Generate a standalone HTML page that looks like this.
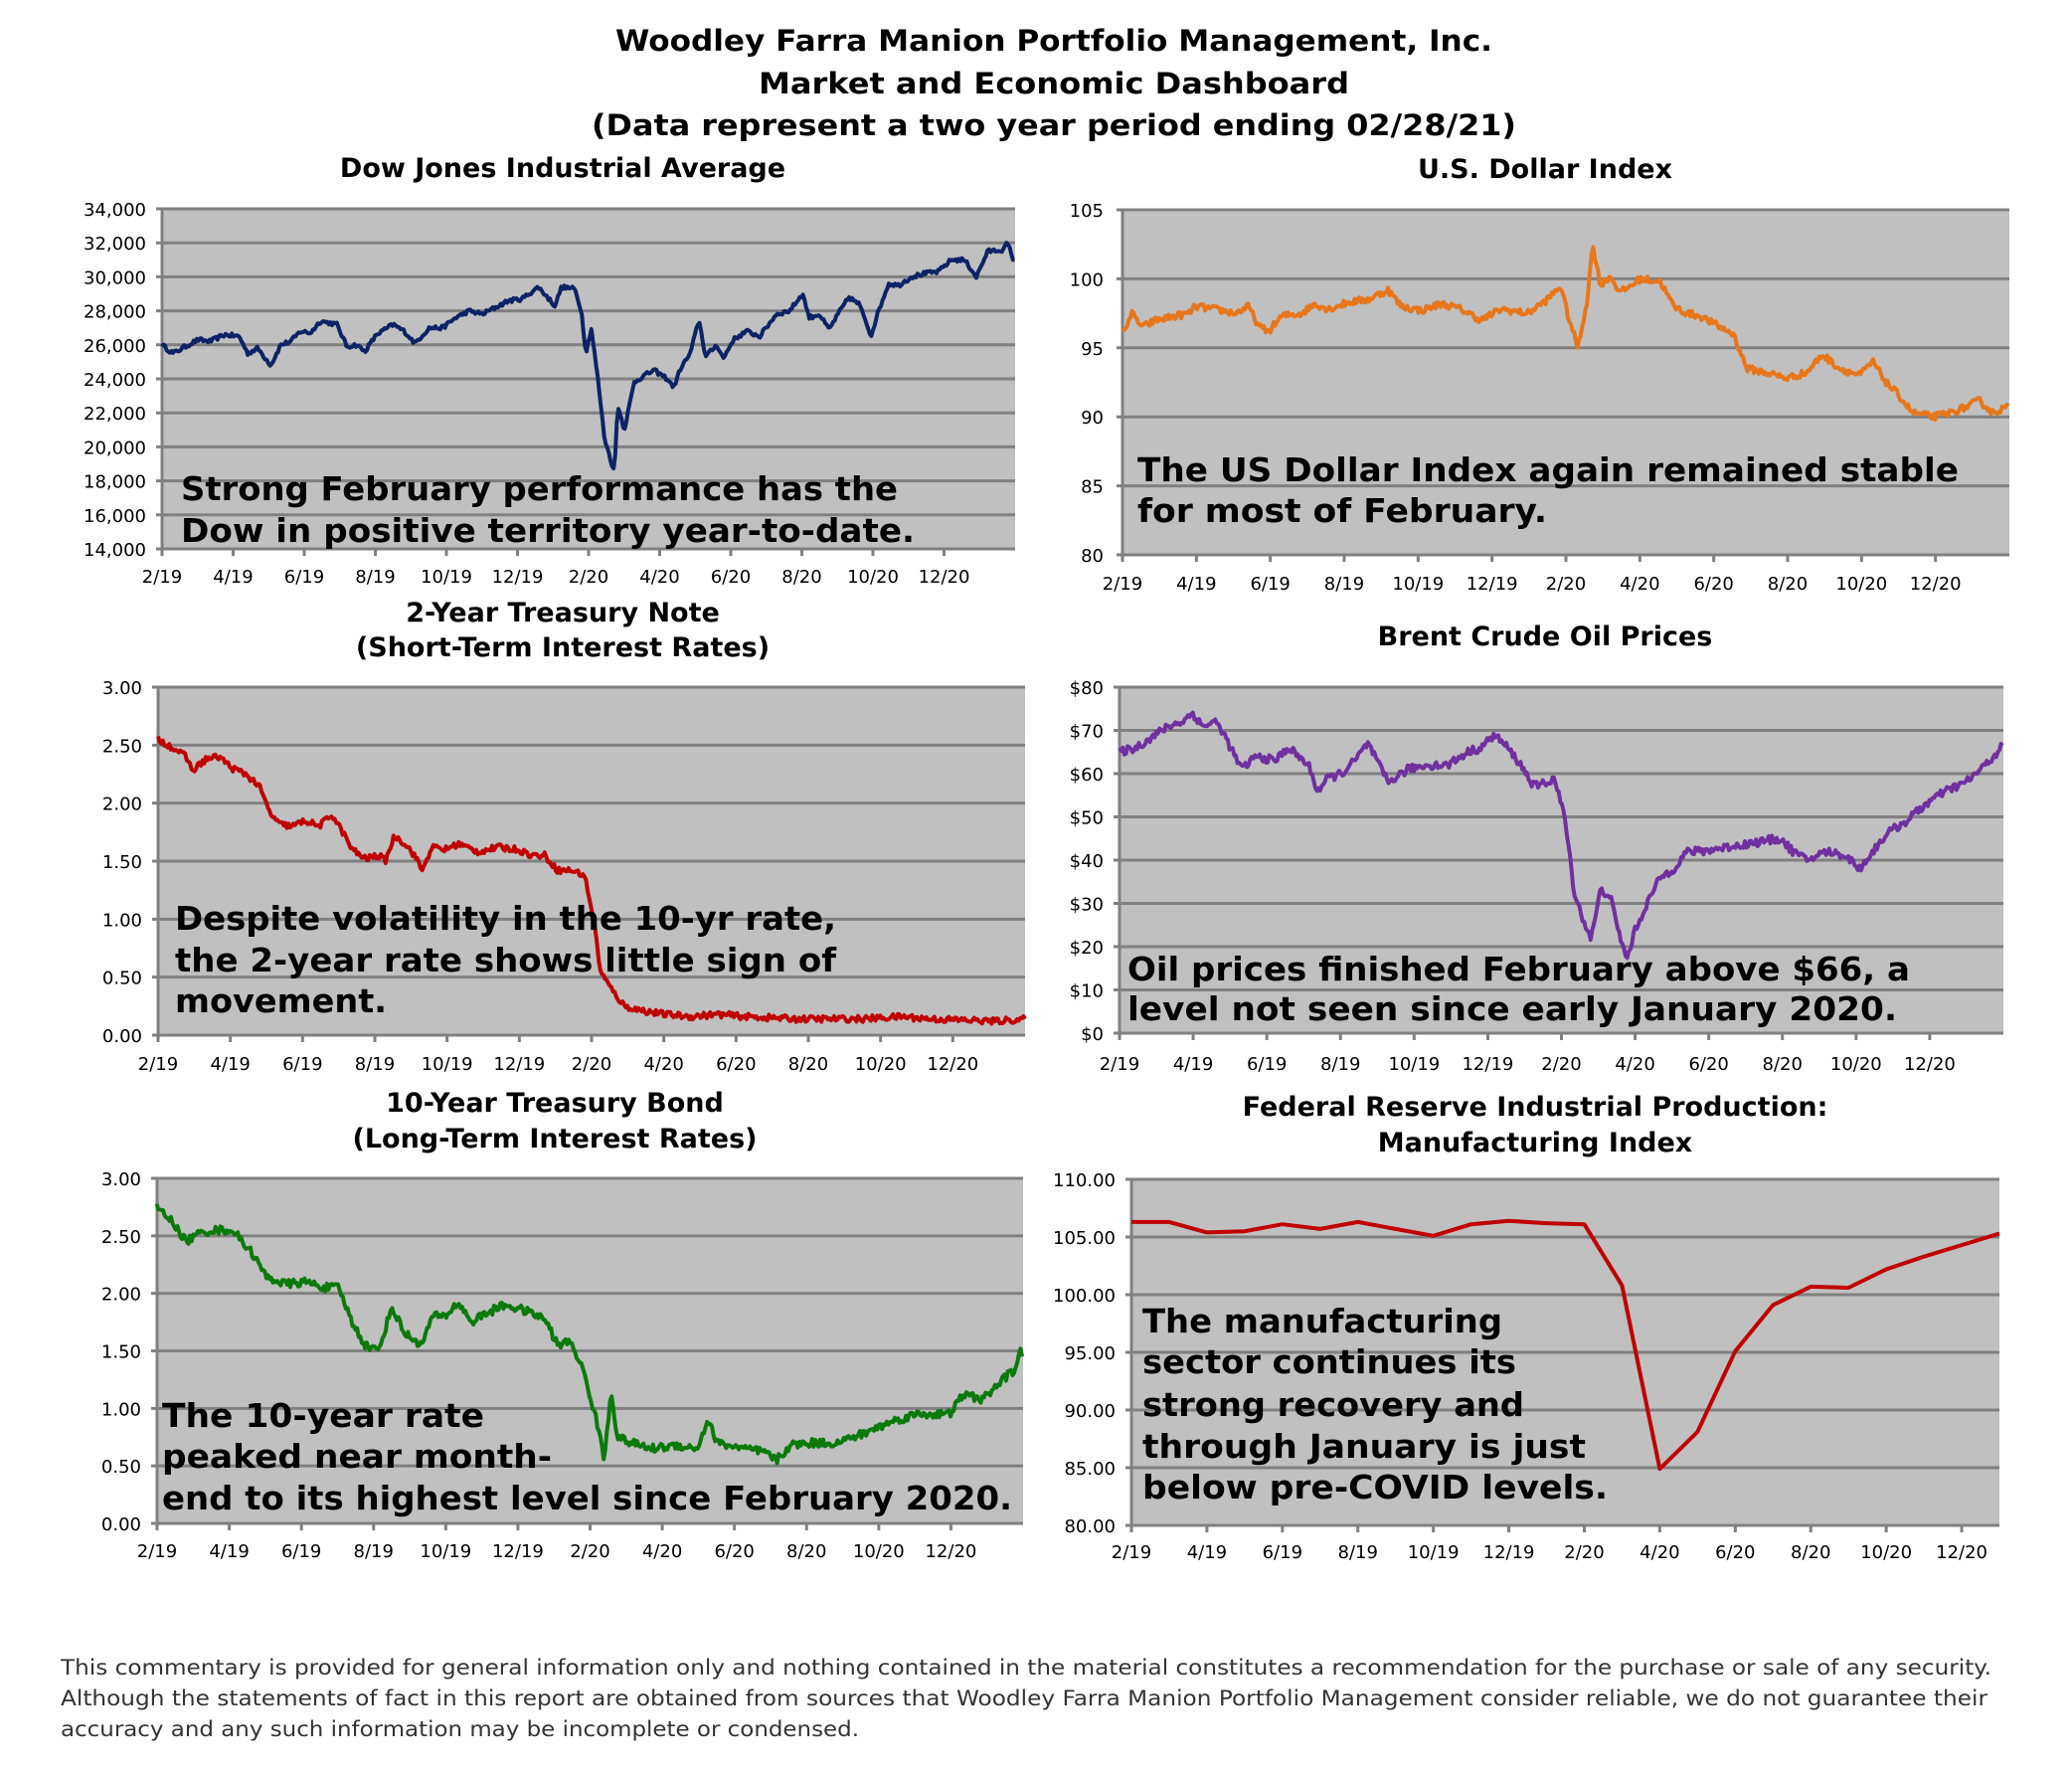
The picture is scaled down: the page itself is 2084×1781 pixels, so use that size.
<!DOCTYPE html>
<html><head><meta charset="utf-8">
<style>
html,body{margin:0;padding:0;background:#fff;}
svg{display:block;}
text{font-family:"DejaVu Sans","Liberation Sans",sans-serif;}
.t{font-weight:bold;font-size:29px;fill:#000;}
.ct{font-weight:bold;font-size:27px;fill:#000;}
.ann{font-weight:bold;font-size:33px;fill:#000;}
.lab{font-size:18px;fill:#000;}
.ft{font-size:21px;fill:#333;}
</style></head>
<body>
<svg id="s" width="2084" height="1781" viewBox="0 0 2084 1781" xmlns="http://www.w3.org/2000/svg">
<rect width="2084" height="1781" fill="#fff"/>
<text class="t" x="1060" y="51" text-anchor="middle" textLength="882" lengthAdjust="spacingAndGlyphs">Woodley Farra Manion Portfolio Management, Inc.</text>
<text class="t" x="1060" y="94" text-anchor="middle" textLength="594" lengthAdjust="spacingAndGlyphs">Market and Economic Dashboard</text>
<text class="t" x="1060" y="136" text-anchor="middle" textLength="930" lengthAdjust="spacingAndGlyphs">(Data represent a two year period ending 02/28/21)</text>
<g id="charts"></g>
<text class="ft" x="61" y="1684" textLength="1942" lengthAdjust="spacingAndGlyphs">This commentary is provided for general information only and nothing contained in the material constitutes a recommendation for the purchase or sale of any security.</text>
<text class="ft" x="61" y="1715" textLength="1938" lengthAdjust="spacingAndGlyphs">Although the statements of fact in this report are obtained from sources that Woodley Farra Manion Portfolio Management consider reliable, we do not guarantee their</text>
<text class="ft" x="61" y="1746" textLength="803" lengthAdjust="spacingAndGlyphs">accuracy and any such information may be incomplete or condensed.</text>
</svg>
<script>
(function(){
var S=1.336, NS="http://www.w3.org/2000/svg", g=document.getElementById('charts');
var seed=12345;function rnd(){seed=(seed*16807)%2147483647;return seed/2147483647;}
function el(n,a,t){var e=document.createElementNS(NS,n);for(var k in a)e.setAttribute(k,a[k]);if(t!=null)e.textContent=t;g.appendChild(e);return e;}
function interp(pts,x){for(var i=0;i<pts.length-1;i++){if(x<=pts[i+1][0]){var a=pts[i],b=pts[i+1];var f=(x-a[0])/((b[0]-a[0])||1);return a[1]+(b[1]-a[1])*f;}}return pts[pts.length-1][1];}
var labels=['2/19','4/19','6/19','8/19','10/19','12/19','2/20','4/20','6/20','8/20','10/20','12/20'];
function chart(o){
 var x0=o.x0,x1=o.x1,y0=o.y0,y1=o.y1;
 el('rect',{x:x0,y:y0,width:x1-x0,height:y1-y0,fill:'#c0c0c0'});
 var n=Math.round((o.ymax-o.ymin)/o.step);
 for(var i=0;i<=n;i++){var v=o.ymin+i*o.step;var y=y1-(v-o.ymin)/(o.ymax-o.ymin)*(y1-y0);
  el('line',{x1:x0-6,y1:y,x2:x1,y2:y,stroke:'#808080','stroke-width':3});
  el('text',{x:o.lx,y:y+7,'text-anchor':'end','class':'lab'},o.fmt(v));}
 el('line',{x1:x0,y1:y0,x2:x0,y2:y1+6,stroke:'#808080','stroke-width':3});
 var mw=(x1-x0)/(o.months||24);
 for(var j=0;j<12;j++){var xx=x0+j*2*mw;el('line',{x1:xx,y1:y1,x2:xx,y2:y1+7,stroke:'#808080','stroke-width':3});
  el('text',{x:xx,y:o.xly,'text-anchor':'middle','class':'lab'},labels[j]);}
 var pts=o.pts.map(function(p){return [p[0]*o.ks,p[1]];});
 var d='',amp=(o.ymax-o.ymin)*(o.noise||0.004);
 if(o.smooth){pts.forEach(function(p,i){var y=y1-(p[1]-o.ymin)/(o.ymax-o.ymin)*(y1-y0);d+=(i?'L':'M')+p[0].toFixed(1)+' '+y.toFixed(1);});}
 else{var xs=pts[0][0],xe=pts[pts.length-1][0];
  for(var x=xs;x<=xe+0.01;x+=1.6){var v=interp(pts,x)+(rnd()-0.5)*2*amp;if(x>xe-2)v=interp(pts,xe);
   var y=y1-(v-o.ymin)/(o.ymax-o.ymin)*(y1-y0);d+=(x==xs?'M':'L')+x.toFixed(1)+' '+y.toFixed(1);}}
 el('path',{d:d,fill:'none',stroke:o.color,'stroke-width':o.sw||4,'stroke-linejoin':'round'});
 o.titles.forEach(function(t){el('text',{x:t[0],y:t[1],'text-anchor':'middle','class':'ct'},t[2]);});
 o.ann.forEach(function(a){el('text',{x:a[0],y:a[1],'class':'ann',textLength:a[3],lengthAdjust:'spacingAndGlyphs'},a[2]);});
}
function comma(v){return v.toLocaleString('en-US');}
function f2(v){return v.toFixed(2);}
chart({x0:163,x1:1021,y0:210,y1:552,ymin:14000,ymax:34000,step:2000,fmt:comma,lx:147,xly:586,color:'#0d2366',ks:1/1.505,noise:0.006,
pts:[[245,26000],[262,25500],[285,26000],[300,26300],[318,26200],[340,26600],[362,26500],[375,25500],[390,25800],[410,24800],[425,26000],[440,26200],[455,26800],[470,26700],[485,27400],[510,27200],[525,25900],[540,26000],[552,25600],[570,26600],[595,27200],[612,26800],[628,26100],[650,27000],[670,27000],[690,27600],[710,28000],[730,27800],[750,28200],[770,28600],[790,28700],[815,29400],[840,28300],[850,29400],[870,29300],[880,28000],[887,25500],[895,27000],[905,24000],[915,20500],[930,18500],[935,22500],[945,21000],[960,23800],[975,24200],[990,24500],[1010,24000],[1020,23500],[1030,24600],[1045,25500],[1058,27500],[1068,25300],[1085,26000],[1095,25200],[1110,26300],[1130,26800],[1150,26500],[1175,27800],[1195,28000],[1215,29000],[1225,27600],[1240,27800],[1255,26900],[1270,27900],[1285,28800],[1300,28400],[1310,27500],[1318,26500],[1330,28000],[1345,29600],[1360,29500],[1380,30000],[1400,30200],[1420,30300],[1440,31000],[1460,31000],[1478,30000],[1495,31500],[1520,31600],[1524,32000],[1536,31000]],
titles:[[566,178,'Dow Jones Industrial Average']],
ann:[[182,503,'Strong February performance has the',721],[182,545,'Dow in positive territory year-to-date.',738]]});
chart({x0:1129,x1:2021,y0:211,y1:558,ymin:80,ymax:105,step:5,fmt:function(v){return ''+v;},lx:1110,xly:593,color:'#e8761a',ks:S,noise:0.01,
pts:[[845,96],[852,97.5],[860,96.5],[870,97],[880,97.2],[895,97.5],[900,98],[915,97.8],[930,97.5],[940,98],[948,96.5],[955,96.2],[965,97.3],[980,97.5],[990,98.2],[1000,97.8],[1015,98.3],[1030,98.5],[1045,99.2],[1055,98],[1070,97.7],[1085,98.2],[1100,97.8],[1115,97],[1130,97.8],[1150,97.5],[1165,98.5],[1175,99.5],[1180,97.5],[1188,95],[1195,98.5],[1199,102.5],[1205,99.5],[1212,100.2],[1220,99],[1235,100],[1250,99.8],[1260,98],[1270,97.5],[1280,97.3],[1295,96.5],[1305,96],[1315,93.5],[1330,93.2],[1345,92.8],[1360,93.2],[1372,94.5],[1385,93.5],[1400,93],[1410,94],[1420,92.5],[1430,91.5],[1440,90.3],[1455,90],[1465,90.2],[1480,90.7],[1490,91.2],[1500,90.3],[1513,90.8]],
titles:[[1554,179,'U.S. Dollar Index']],
ann:[[1144,484,'The US Dollar Index again remained stable',826],[1144,525,'for most of February.',412]]});
chart({x0:159,x1:1031,y0:691,y1:1041,ymin:0,ymax:3,step:0.5,fmt:f2,lx:143,xly:1076,color:'#c00000',ks:S,noise:0.009,
pts:[[119,2.55],[130,2.48],[140,2.40],[145,2.28],[155,2.38],[165,2.40],[175,2.30],[185,2.25],[195,2.15],[203,1.92],[210,1.82],[220,1.80],[230,1.85],[240,1.80],[250,1.90],[258,1.75],[265,1.60],[275,1.52],[285,1.55],[290,1.50],[297,1.72],[305,1.65],[312,1.55],[318,1.42],[325,1.62],[335,1.60],[345,1.65],[360,1.58],[375,1.62],[390,1.60],[400,1.55],[410,1.55],[420,1.42],[430,1.42],[440,1.38],[447,1.00],[452,0.55],[460,0.40],[470,0.25],[480,0.22],[500,0.18],[520,0.16],[540,0.18],[560,0.16],[600,0.14],[650,0.14],[680,0.16],[700,0.14],[750,0.12],[772,0.14]],
titles:[[566,625,'2-Year Treasury Note'],[566,660,'(Short-Term Interest Rates)']],
ann:[[176,935,'Despite volatility in the 10-yr rate,',665],[176,977,'the 2-year rate shows little sign of',665],[176,1018,'movement.',213]]});
chart({x0:1126,x1:2015,y0:691,y1:1039,ymin:0,ymax:80,step:10,fmt:function(v){return '$'+v;},lx:1110,xly:1076,color:'#7030a0',ks:S,noise:0.012,
pts:[[843,65],[855,66],[865,68],[880,71],[890,72],[898,74],[905,71],[915,72],[920,70],[928,65],[935,61],[945,64],[960,63],[970,66],[985,62],[992,56],[1000,59],[1010,60],[1020,63],[1030,67],[1038,62],[1045,58],[1060,61],[1075,62],[1090,62],[1105,65],[1115,66],[1125,69],[1135,66],[1145,62],[1155,57],[1165,58],[1170,59],[1178,50],[1185,33],[1192,26],[1198,22],[1205,33],[1212,32],[1218,24],[1225,17],[1230,23],[1240,30],[1250,36],[1260,38],[1270,42],[1280,42],[1300,43],[1320,44],[1340,45],[1350,42],[1360,40],[1375,42],[1390,41],[1400,38],[1410,42],[1420,46],[1435,49],[1450,53],[1465,56],[1480,58],[1495,62],[1508,66.5]],
titles:[[1554,649,'Brent Crude Oil Prices']],
ann:[[1134,986,'Oil prices finished February above $66, a',787],[1134,1026,'level not seen since early January 2020.',774]]});
chart({x0:158,x1:1029,y0:1185,y1:1532,ymin:0,ymax:3,step:0.5,fmt:f2,lx:142,xly:1566,color:'#0b7a0b',ks:S,noise:0.012,
pts:[[118,2.75],[130,2.62],[140,2.45],[150,2.52],[160,2.55],[175,2.55],[190,2.35],[200,2.15],[215,2.08],[230,2.10],[245,2.05],[255,2.05],[265,1.75],[275,1.55],[285,1.50],[295,1.88],[305,1.65],[318,1.55],[325,1.80],[335,1.80],[345,1.92],[355,1.75],[365,1.82],[380,1.90],[395,1.85],[410,1.78],[420,1.55],[430,1.58],[440,1.30],[450,0.85],[455,0.55],[460,1.15],[465,0.75],[475,0.70],[490,0.65],[510,0.68],[525,0.65],[533,0.90],[540,0.70],[560,0.65],[575,0.62],[585,0.55],[595,0.68],[610,0.70],[630,0.70],[650,0.78],[670,0.88],[690,0.95],[715,0.95],[725,1.12],[740,1.08],[755,1.25],[765,1.35],[768,1.55],[770,1.45]],
titles:[[558,1118,'10-Year Treasury Bond'],[558,1154,'(Long-Term Interest Rates)']],
ann:[[163,1435,'The 10-year rate',324],[163,1476,'peaked near month-',392],[163,1518,'end to its highest level since February 2020.',855]]});
var mv=[106.3,106.3,105.4,105.5,106.1,105.7,106.3,105.7,105.1,106.1,106.4,106.2,106.1,100.8,84.9,88.1,95.1,99.1,100.7,100.6,102.2,103.3,104.3,105.3];
var mp=mv.map(function(v,i){return [(1138+i*(2011-1138)/23)/S,v];});
chart({x0:1138,x1:2011,y0:1186,y1:1534,ymin:80,ymax:110,step:5,fmt:f2,lx:1122,xly:1567,color:'#c00000',ks:S,smooth:true,months:23,
pts:mp,
titles:[[1544,1122,'Federal Reserve Industrial Production:'],[1544,1158,'Manufacturing Index']],
ann:[[1149,1340,'The manufacturing',362],[1149,1381,'sector continues its',376],[1149,1424,'strong recovery and',384],[1149,1466,'through January is just',446],[1149,1507,'below pre-COVID levels.',468]]});
})();
</script>
</body></html>
